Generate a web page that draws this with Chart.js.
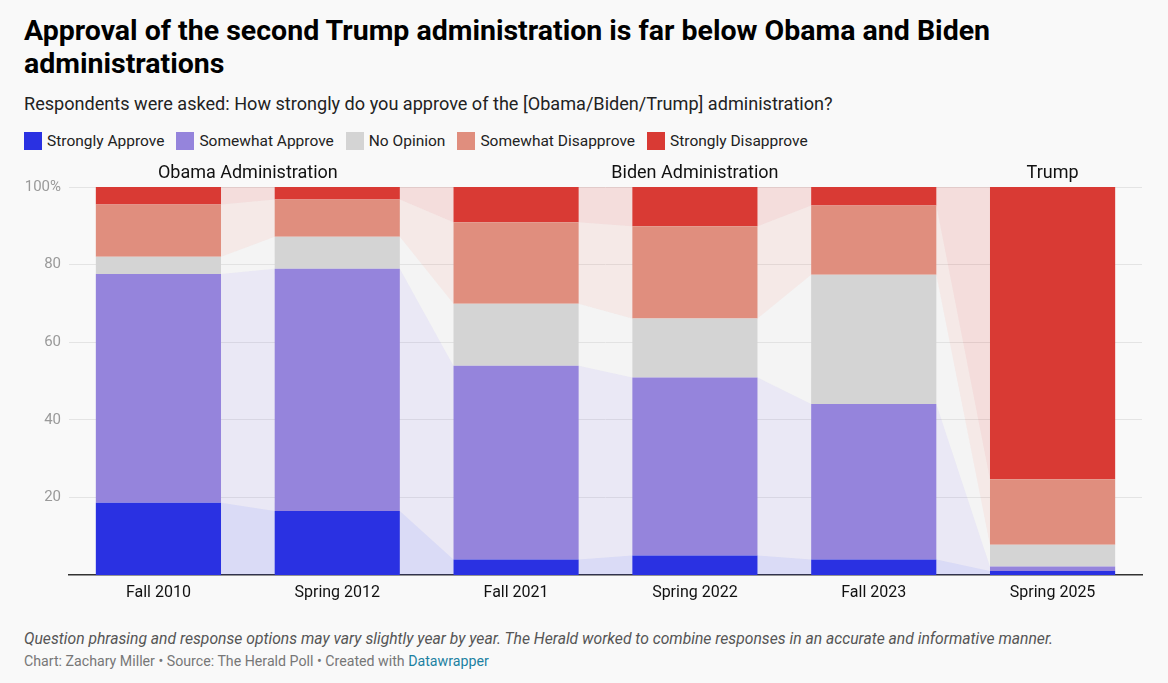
<!DOCTYPE html>
<html>
<head>
<meta charset="utf-8">
<script src="https://cdn.jsdelivr.net/npm/chart.js@4/dist/chart.umd.min.js"></script>
<style>
  html, body { margin: 0; padding: 0; background: #f9f9f9; }
  body { width: 1168px; height: 683px; position: relative; overflow: hidden; font-family: Roboto, "Noto Sans", sans-serif; color: #000; }
  #title { position: absolute; left: 24px; top: 14px; width: 1120px; font-size: 28.5px; font-weight: 700; line-height: 33px; }
  #subtitle { position: absolute; left: 24px; top: 92px; font-size: 18.1px; color: #222; line-height: 24px; }
  #legend { position: absolute; left: 24px; top: 131px; display: flex; font-size: 15.5px; color: #222; line-height: 20px; }
  .li { display: flex; align-items: center; margin-right: 12px; }
  .sw { width: 18px; height: 18px; margin-right: 5px; }
  #chartbox { position: absolute; left: 20px; top: 158px; width: 1130px; height: 450px; }
  #note { position: absolute; left: 24px; top: 629px; font-size: 15.7px; font-style: italic; color: #555; }
  #credit { position: absolute; left: 24px; top: 653px; font-size: 14.2px; color: #777; }
  #credit a { color: #1d81a2; text-decoration: none; }
</style>
</head>
<body>
<div id="title">Approval of the second Trump administration is far below Obama and Biden administrations</div>
<div id="subtitle">Respondents were asked: How strongly do you approve of the [Obama/Biden/Trump] administration?</div>
<div id="legend"></div>
<div id="chartbox"><canvas id="c"></canvas></div>
<div id="note">Question phrasing and response options may vary slightly year by year. The Herald worked to combine responses in an accurate and informative manner.</div>
<div id="credit">Chart: Zachary Miller • Source: The Herald Poll • Created with <a>Datawrapper</a></div>
<script>
const categories = ['Fall 2010', 'Spring 2012', 'Fall 2021', 'Spring 2022', 'Fall 2023', 'Spring 2025'];
const seriesNames = ['Strongly Approve', 'Somewhat Approve', 'No Opinion', 'Somewhat Disapprove', 'Strongly Disapprove'];
const stronglyApprove    = [18.6, 16.5, 4.0, 5.0, 4.0, 1.0];
const somewhatApprove    = [59.0, 62.4, 49.9, 45.9, 40.1, 1.2];
const noOpinion          = [4.4, 8.3, 16.0, 15.2, 33.3, 5.6];
const somewhatDisapprove = [13.5, 9.6, 21.0, 23.8, 17.8, 16.9];
const stronglyDisapprove = [4.5, 3.2, 9.1, 10.1, 4.8, 75.3];
const yTicks = [20, 40, 60, 80, 100];
const groupNames = ['Obama Administration', 'Biden Administration', 'Trump'];
const groupFirst = [0, 2, 5];
const groupLast  = [1, 4, 5];

const colors = ['#2a31e2', '#9584dc', '#d4d4d4', '#e08e7e', '#d93a34'];
const seriesValues = [stronglyApprove, somewhatApprove, noOpinion, somewhatDisapprove, stronglyDisapprove];

// legend
const lg = document.getElementById('legend');
seriesNames.forEach((n, i) => {
  const d = document.createElement('div'); d.className = 'li';
  d.innerHTML = '<div class="sw" style="background:' + colors[i] + '"></div><span>' + n + '</span>';
  lg.appendChild(d);
});

function hexA(hex, a) {
  const r = parseInt(hex.slice(1,3),16), g = parseInt(hex.slice(3,5),16), b = parseInt(hex.slice(5,7),16);
  return 'rgba(' + r + ',' + g + ',' + b + ',' + a + ')';
}

const flowPlugin = {
  id: 'flows',
  beforeDatasetsDraw(chart) {
    const ctx = chart.ctx;
    ctx.save();
    chart.data.datasets.forEach((ds, di) => {
      const meta = chart.getDatasetMeta(di);
      for (let i = 0; i < meta.data.length - 1; i++) {
        const a = meta.data[i], b = meta.data[i + 1];
        const ax = a.x + a.width / 2, bx = b.x - b.width / 2;
        ctx.beginPath();
        ctx.moveTo(ax, a.y);
        ctx.lineTo(bx, b.y);
        ctx.lineTo(bx, b.base);
        ctx.lineTo(ax, a.base);
        ctx.closePath();
        ctx.fillStyle = hexA(colors[di], 0.15);
        ctx.fill();
      }
    });
    ctx.restore();
  }
};

const groupPlugin = {
  id: 'groups',
  afterDraw(chart) {
    const ctx = chart.ctx, xs = chart.scales.x;
    ctx.save();
    ctx.font = '18px Roboto, "Noto Sans", sans-serif';
    ctx.fillStyle = '#111';
    ctx.textAlign = 'center';
    ctx.textBaseline = 'middle';
    groupNames.forEach((g, i) => {
      const x = (xs.getPixelForValue(groupFirst[i]) + xs.getPixelForValue(groupLast[i])) / 2;
      ctx.fillText(g, x, chart.chartArea.top - 14);
    });
    ctx.restore();
  }
};

new Chart(document.getElementById('c'), {
  type: 'bar',
  data: {
    labels: categories,
    datasets: seriesNames.map((n, i) => ({
      label: n,
      data: seriesValues[i],
      backgroundColor: colors[i],
      borderWidth: 0,
      barPercentage: 0.7,
      categoryPercentage: 1.0
    }))
  },
  options: {
    responsive: true,
    maintainAspectRatio: false,
    animation: false,
    events: [],
    layout: { padding: { top: 29, right: 8, left: 0, bottom: 0 } },
    plugins: { legend: { display: false }, tooltip: { enabled: false } },
    scales: {
      x: {
        stacked: true,
        grid: { display: false, drawTicks: false },
        border: { display: true, color: '#333', width: 1.5 },
        ticks: { color: '#111', font: { size: 16, family: 'Roboto' }, padding: 8, maxRotation: 0 },
        afterFit(s) { s.height = 33; }
      },
      y: {
        stacked: true,
        min: 0, max: 100,
        afterBuildTicks(s) { s.ticks = yTicks.map(v => ({ value: v })); },
        grid: { color: '#e4e4e4', drawTicks: false, lineWidth: 1 },
        border: { display: false },
        ticks: {
          color: '#9a9a9a', font: { size: 15, family: 'Roboto' }, padding: 8,
          callback: v => v === 100 ? '100%' : String(v)
        },
        afterFit(s) { s.width = 49; }
      }
    }
  },
  plugins: [flowPlugin, groupPlugin]
});
</script>
</body>
</html>
